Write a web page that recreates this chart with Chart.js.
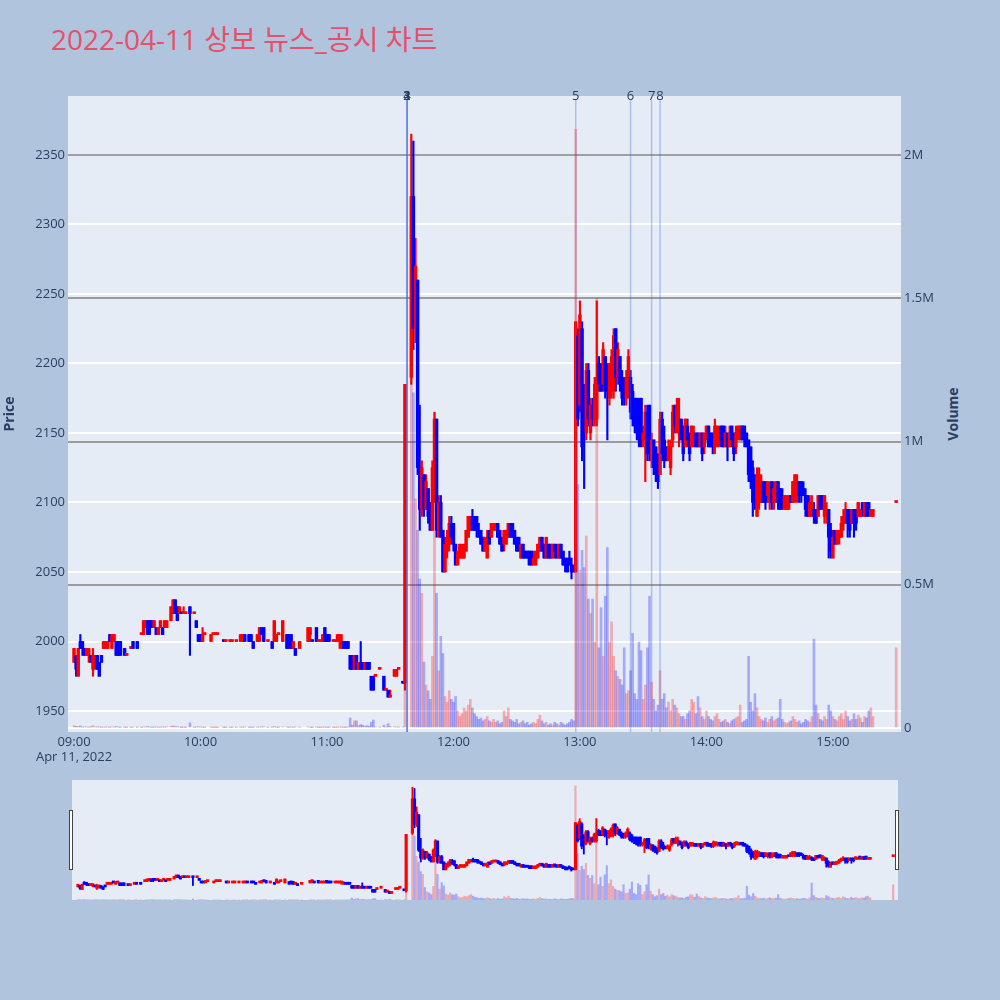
<!DOCTYPE html>
<html lang="ko">
<head>
<meta charset="UTF-8">
<title>2022-04-11 상보 뉴스_공시 차트</title>
<script src="https://cdn.jsdelivr.net/npm/chart.js@4.4.0/dist/chart.umd.min.js"></script>
<style>
    body {
        margin: 0;
        width: 1000px;
        height: 1000px;
        position: relative;
        overflow: hidden;
        background: #b0c4de;
        font-family: "Open Sans", sans-serif;
    }
    #title {
        position: absolute;
        left: 51px;
        top: 20px;
        font-size: 28px;
        line-height: 38px;
        white-space: nowrap;
        color: #e8506a;
        font-family: "Open Sans", "Noto Sans CJK KR", sans-serif;
    }
    #volTitle {
        position: absolute;
        left: 952px;
        top: 414px;
        transform: translate(-50%, -50%) rotate(-90deg);
        font-size: 14px;
        font-weight: bold;
        color: #2a3f5f;
    }
    #main { position: absolute; left: 0; top: 0; }
    #slider { position: absolute; left: 60px; top: 770px; }
</style>
</head>
<body>
<div id="title">2022-04-11 상보 뉴스_공시 차트</div>
<div id="volTitle">Volume</div>
<canvas id="main" width="1000" height="770"></canvas>
<canvas id="slider" width="850" height="140"></canvas>

<script>
// minutes after 09:00 (1-minute candles)
const minutes = [
    0,1,2,3,4,5,6,7,8,9,
    10,11,12,13,14,15,16,17,18,19,
    20,21,22,24,25,27,28,30,32,33,
    34,35,36,37,38,39,40,41,42,43,
    44,46,47,48,49,50,51,52,53,55,
    57,58,59,60,61,62,65,66,67,68,
    71,72,74,75,77,79,80,81,83,84,
    85,87,88,89,90,92,94,95,96,97,
    99,101,102,103,104,105,107,111,112,113,
    115,116,117,118,119,120,121,123,124,125,
    126,127,128,129,130,131,132,133,134,135,
    136,137,138,139,140,141,142,143,145,147,
    148,149,150,152,153,154,156,157,
    160,161,162,163,164,165,166,167,168,169,
    170,171,172,173,174,175,176,177,178,179,
    180,181,182,183,184,185,186,187,188,189,
    190,191,192,193,194,195,196,197,198,199,
    200,201,202,203,204,205,206,207,208,209,
    210,211,212,213,214,215,216,217,218,219,
    220,221,222,223,224,225,226,227,228,229,
    230,231,232,233,234,235,236,237,
    238,239,
    240,241,242,243,244,245,246,247,248,249,
    250,251,252,253,254,255,256,257,258,259,
    260,261,262,263,264,265,266,267,268,269,
    270,271,272,273,274,275,276,277,278,279,
    280,281,282,283,284,285,286,287,288,289,
    290,291,292,293,294,295,296,297,298,299,
    300,301,302,303,304,305,306,307,308,309,
    310,311,312,313,314,315,316,317,318,319,
    320,321,322,323,324,325,326,327,328,329,
    330,331,332,333,334,335,336,337,338,339,
    340,341,342,343,344,345,346,347,348,349,
    350,351,352,353,354,355,356,357,358,359,
    360,361,362,363,364,365,366,367,368,369,
    370,371,372,373,374,375,376,377,378,379,
    390
];

const opens = [
    1985,1990,1975,2000,2000,1995,1990,1990,1990,1980,
    1985,1990,1985,1990,1995,1995,1995,2005,1995,2000,
    2000,2000,2000,1995,1990,1995,2000,2000,2005,2005,
    2010,2015,2015,2015,2010,2010,2005,2010,2010,2010,
    2010,2015,2020,2030,2025,2020,2020,2020,2020,2025,
    2020,2015,2005,2005,2000,2005,2000,2005,2005,2005,
    2000,2000,2000,2000,2000,2000,2000,2005,2005,2005,
    2000,2000,2000,2010,2010,2000,2000,2000,2000,2005,
    2000,2005,2005,2005,1995,1995,1995,2000,2005,2000,
    2010,2000,2000,2000,2010,2005,2005,2000,2000,2000,
    2000,1995,2000,2000,2000,1990,1990,1980,1990,1980,
    1985,1985,1980,1985,1985,1975,1975,1975,1980,1975,
    1965,1965,1960,1975,1975,1980,1970,1970,
    2190,2320,2225,2260,2125,2095,2120,2095,2110,2100,
    2080,2110,2160,2080,2100,2080,2050,2065,2070,2085,
    2085,2070,2055,2060,2060,2060,2065,2075,2080,2090,
    2090,2090,2080,2080,2075,2065,2060,2080,2075,2080,
    2080,2085,2080,2075,2070,2070,2075,2085,2085,2080,
    2075,2075,2060,2070,2065,2065,2065,2065,2055,2055,
    2060,2065,2075,2070,2060,2070,2070,2060,2070,2065,
    2060,2070,2065,2060,2055,2060,2055,2055,
    2050,2220,
    2170,2225,2180,2150,2195,2150,2170,2160,2160,2200,
    2195,2185,2205,2190,2175,2185,2180,2225,2190,2205,
    2190,2185,2175,2180,2190,2180,2175,2175,2170,2175,
    2145,2145,2165,2170,2130,2145,2140,2130,2120,2160,
    2145,2140,2130,2125,2145,2170,2150,2155,2160,2155,
    2140,2155,2150,2140,2145,2150,2150,2140,2150,2140,
    2145,2155,2150,2150,2140,2150,2145,2155,2155,2140,
    2150,2140,2155,2150,2140,2150,2145,2155,2155,2150,
    2145,2140,2125,2115,2090,2100,2100,2115,2115,2105,
    2100,2115,2100,2100,2115,2110,2105,2095,2095,2095,
    2105,2100,2105,2110,2115,2115,2110,2105,2105,2090,
    2090,2095,2095,2090,2105,2105,2090,2090,2095,2080,
    2060,2080,2070,2075,2075,2085,2085,2095,2095,2085,
    2095,2095,2090,2090,2100,2090,2100,2100,2090,2090,
    2100
];

const highs = [
    1995,1990,1995,2005,2000,1995,1995,1995,1990,1995,
    1990,1990,1985,1990,2000,2000,2000,2005,2005,2005,
    2000,2000,2000,1995,1990,1995,2000,2000,2005,2015,
    2015,2015,2015,2015,2015,2010,2010,2015,2010,2015,
    2015,2025,2030,2030,2025,2025,2020,2025,2020,2025,
    2020,2015,2005,2005,2010,2005,2005,2005,2005,2005,
    2000,2000,2000,2000,2000,2005,2005,2005,2005,2005,
    2000,2005,2010,2010,2010,2000,2000,2015,2005,2005,
    2015,2005,2005,2005,2000,1995,2000,2010,2010,2000,
    2010,2000,2000,2005,2010,2005,2005,2000,2000,2005,
    2005,2005,2000,2000,2000,1990,1990,1990,1990,1985,
    2000,1985,1985,1985,1985,1975,1975,1975,1980,1975,
    1965,1965,1965,1980,1980,1980,1970,2185,
    2365,2360,2290,2260,2170,2130,2120,2120,2110,2100,
    2130,2165,2160,2105,2105,2080,2075,2080,2090,2090,
    2085,2070,2065,2070,2070,2070,2080,2090,2090,2095,
    2090,2090,2085,2080,2075,2075,2080,2080,2085,2085,
    2085,2085,2080,2075,2080,2080,2085,2085,2085,2080,
    2075,2075,2070,2070,2065,2065,2065,2065,2065,2065,
    2070,2075,2075,2070,2075,2070,2070,2070,2070,2070,
    2070,2070,2065,2060,2060,2065,2060,2055,
    2230,2225,
    2245,2230,2185,2200,2200,2175,2175,2190,2245,2205,
    2200,2215,2205,2200,2200,2210,2225,2225,2215,2205,
    2195,2190,2195,2210,2195,2185,2175,2175,2175,2175,
    2155,2170,2170,2170,2150,2145,2140,2135,2165,2165,
    2155,2140,2145,2145,2170,2170,2175,2175,2160,2155,
    2160,2160,2150,2155,2155,2150,2150,2150,2150,2150,
    2155,2155,2150,2150,2160,2155,2155,2155,2155,2155,
    2150,2155,2155,2150,2155,2155,2155,2155,2155,2150,
    2145,2140,2130,2120,2125,2125,2120,2115,2115,2115,
    2115,2115,2115,2115,2115,2110,2110,2105,2105,2105,
    2105,2115,2120,2120,2115,2115,2115,2110,2105,2105,
    2105,2100,2095,2105,2105,2105,2105,2100,2095,2085,
    2080,2080,2080,2080,2090,2095,2100,2095,2095,2095,
    2095,2095,2100,2095,2100,2100,2100,2100,2095,2095,
    2100
];

const lows = [
    1985,1975,1975,1995,1990,1990,1990,1985,1985,1975,
    1980,1980,1975,1985,1995,1995,1995,2000,1995,2000,
    1990,1990,1990,1990,1990,1995,1995,1995,2005,2005,
    2010,2005,2005,2010,2010,2005,2005,2010,2005,2010,
    2010,2015,2020,2020,2015,2020,2020,2020,2020,1990,
    2020,2010,2000,2000,2000,2005,2000,2005,2005,2005,
    2000,2000,2000,2000,2000,2000,2000,2000,2000,2000,
    1995,2000,2000,2005,2000,2000,1995,2000,2000,2005,
    2000,1995,1995,1995,1995,1990,1995,2000,2000,2000,
    2000,2000,2000,2000,2000,2000,2000,2000,2000,2000,
    1995,1995,1995,1995,1995,1980,1980,1980,1980,1980,
    1980,1980,1980,1980,1980,1965,1965,1975,1980,1965,
    1965,1960,1960,1975,1975,1980,1970,1965,
    2185,2210,2215,2120,2080,2090,2090,2095,2085,2080,
    2080,2100,2075,2075,2075,2050,2050,2060,2065,2070,
    2065,2055,2055,2060,2060,2060,2065,2075,2080,2080,
    2080,2075,2075,2070,2065,2065,2060,2070,2075,2080,
    2080,2075,2070,2065,2065,2070,2075,2075,2075,2070,
    2065,2065,2060,2060,2060,2060,2055,2055,2055,2055,
    2060,2065,2065,2060,2060,2060,2060,2060,2060,2060,
    2060,2060,2055,2050,2050,2055,2045,2050,
    2050,2155,
    2165,2130,2110,2145,2155,2145,2155,2155,2155,2180,
    2180,2180,2175,2145,2170,2175,2175,2180,2185,2180,
    2170,2170,2170,2175,2160,2155,2150,2145,2140,2140,
    2140,2115,2130,2130,2125,2120,2115,2110,2120,2130,
    2125,2130,2130,2120,2140,2150,2150,2140,2145,2130,
    2140,2140,2130,2140,2140,2140,2140,2140,2130,2135,
    2145,2140,2140,2135,2135,2140,2140,2140,2140,2140,
    2130,2140,2140,2130,2135,2145,2145,2145,2140,2140,
    2115,2110,2090,2095,2090,2095,2100,2100,2095,2100,
    2095,2095,2095,2100,2095,2095,2095,2095,2095,2095,
    2100,2100,2100,2100,2100,2100,2105,2090,2090,2090,
    2090,2085,2085,2090,2095,2095,2085,2085,2060,2060,
    2060,2070,2070,2070,2075,2080,2085,2075,2075,2085,
    2075,2080,2090,2090,2090,2090,2090,2090,2090,2090,
    2100
];

const closes = [
    1995,1980,1995,1995,1995,1990,1995,1995,1985,1990,
    1990,1980,1975,1985,2000,2000,2000,2000,2005,2005,
    1990,1990,1990,1990,1990,1995,1995,1995,2005,2015,
    2015,2005,2010,2010,2015,2005,2010,2015,2005,2015,
    2015,2025,2030,2020,2015,2025,2020,2020,2020,2020,
    2020,2010,2000,2000,2005,2005,2005,2005,2005,2005,
    2000,2000,2000,2000,2000,2005,2005,2000,2000,2000,
    1995,2005,2010,2005,2000,2000,1995,2015,2005,2005,
    2015,1995,2000,1995,2000,1990,2000,2010,2010,2000,
    2000,2000,2000,2005,2000,2000,2000,2000,2000,2005,
    2005,2000,1995,1995,1995,1980,1980,1990,1980,1985,
    1980,1980,1985,1980,1980,1965,1965,1975,1980,1965,
    1965,1960,1960,1980,1980,1980,1970,2185,
    2320,2225,2270,2125,2095,2125,2095,2115,2090,2080,
    2125,2160,2080,2100,2075,2050,2070,2075,2085,2075,
    2070,2055,2065,2070,2065,2070,2080,2090,2090,2080,
    2080,2080,2075,2070,2065,2075,2075,2070,2085,2085,
    2085,2075,2070,2065,2080,2080,2085,2075,2075,2070,
    2065,2065,2070,2060,2060,2060,2055,2055,2060,2065,
    2070,2075,2065,2060,2075,2060,2060,2070,2065,2060,
    2070,2060,2055,2055,2050,2055,2050,2050,
    2230,2160,
    2235,2140,2150,2195,2160,2170,2160,2185,2190,2185,
    2180,2210,2180,2185,2200,2205,2220,2190,2210,2185,
    2175,2175,2190,2205,2165,2160,2155,2150,2145,2150,
    2150,2165,2135,2135,2145,2125,2120,2115,2160,2135,
    2130,2130,2140,2140,2165,2155,2170,2160,2145,2135,
    2160,2145,2135,2155,2150,2140,2140,2150,2135,2150,
    2155,2140,2140,2140,2155,2155,2150,2145,2140,2150,
    2140,2150,2145,2135,2150,2155,2155,2145,2145,2140,
    2120,2115,2100,2100,2120,2120,2115,2100,2100,2115,
    2110,2100,2110,2115,2100,2095,2100,2105,2105,2100,
    2100,2115,2120,2115,2105,2105,2105,2095,2090,2100,
    2100,2090,2085,2105,2095,2100,2105,2095,2075,2065,
    2075,2070,2080,2080,2085,2090,2095,2085,2080,2095,
    2085,2085,2100,2095,2095,2100,2090,2095,2095,2095,
    2100
];

// volume in thousands of shares
const volumes = [
    8,6,5,7,3,4,3,2,5,8,
    4,3,4,2,3,2,3,2,4,2,
    5,3,2,2,1,1,3,2,1,4,
    3,5,3,2,2,3,2,2,3,2,
    4,6,8,5,4,3,1,2,1,18,
    1,3,4,3,2,1,2,1,1,1,
    1,1,1,1,1,2,2,3,2,2,
    2,2,3,3,4,1,2,5,2,1,
    4,3,2,3,2,3,2,3,2,1,
    3,1,1,2,3,2,2,1,1,2,
    3,2,2,2,3,35,10,25,25,8,
    12,10,6,8,6,20,28,3,2,10,
    3,15,6,4,3,2,3,650,
    1860,1170,800,690,520,470,230,150,130,100,
    250,1100,470,200,320,260,110,90,130,100,
    90,110,60,40,50,70,60,80,100,70,
    50,40,30,35,25,30,40,25,20,30,
    20,25,15,20,60,40,70,30,25,20,
    30,15,20,25,15,20,10,15,20,15,
    30,45,25,15,20,10,15,10,20,15,
    10,20,15,10,15,20,30,25,
    2090,850,
    550,620,560,670,450,400,450,300,1500,280,
    420,250,460,630,300,370,250,200,180,170,
    150,280,120,130,200,330,120,100,300,270,
    100,150,280,460,160,100,60,80,200,100,
    120,70,90,60,100,80,70,50,40,40,
    30,50,60,100,90,50,110,70,40,30,
    60,40,30,25,40,50,30,20,25,30,
    20,15,25,30,35,40,80,20,25,30,
    250,90,60,120,70,40,30,25,35,20,
    30,40,25,30,35,100,30,20,15,20,
    25,40,30,20,25,15,20,30,25,20,
    40,310,80,50,30,25,40,30,80,60,
    40,30,25,40,50,30,60,40,25,30,
    50,30,45,35,20,40,35,60,70,40,
    280
];

const timeTicks = ['09:00', '10:00', '11:00', '12:00', '13:00', '14:00', '15:00'];
const dateLabel = 'Apr 11, 2022';
const priceTicks = [1950, 2000, 2050, 2100, 2150, 2200, 2250, 2300, 2350];
const volumeTicks = [0, 500000, 1000000, 1500000, 2000000];
const newsLabels = ['1', '2', '3', '4', '5', '6', '7', '8'];
const newsTimes = ['11:38', '11:38', '11:38', '11:38', '12:58', '13:24', '13:34', '13:38'];

const toMin = t => {
    const [h, m] = t.split(':').map(Number);
    return (h - 9) * 60 + m;
};

Chart.defaults.font.family = '"Open Sans", sans-serif';
Chart.defaults.color = '#2a3f5f';

// red = up, blue = down; flat candles follow the previous close
const isUp = minutes.map((m, i) =>
    closes[i] > opens[i] || (closes[i] === opens[i] && (i === 0 || closes[i] >= closes[i - 1])));
const candleColors = isUp.map(u => u ? '#ff0000' : '#0000ff');
const volColors = isUp.map(u => u ? 'rgba(255,0,0,0.28)' : 'rgba(0,0,255,0.28)');

function buildDatasets(bodyW, wickW, volW) {
    return [
        {
            yAxisID: 'yv',
            data: minutes.map((m, i) => ({ x: m, y: volumes[i] * 1000 })),
            backgroundColor: volColors,
            barThickness: volW,
            grouped: false,
            order: 3
        },
        {
            yAxisID: 'y',
            data: minutes.map((m, i) => ({ x: m, y: [lows[i], highs[i]] })),
            backgroundColor: candleColors,
            barThickness: wickW,
            minBarLength: 1,
            grouped: false,
            order: 2
        },
        {
            yAxisID: 'y',
            data: minutes.map((m, i) => ({ x: m, y: [Math.min(opens[i], closes[i]), Math.max(opens[i], closes[i])] })),
            backgroundColor: candleColors,
            barThickness: bodyW,
            minBarLength: 2,
            grouped: false,
            order: 1
        }
    ];
}

const plotBg = {
    id: 'plotBg',
    beforeDraw(chart) {
        const { ctx, chartArea: a } = chart;
        ctx.save();
        ctx.fillStyle = '#e5ecf6';
        ctx.fillRect(a.left, a.top, a.right - a.left, a.bottom - a.top);
        ctx.restore();
    }
};

const newsLines = {
    id: 'newsLines',
    afterDatasetsDraw(chart) {
        const { ctx, chartArea: a, scales } = chart;
        ctx.save();
        newsTimes.forEach((t, i) => {
            const px = scales.x.getPixelForValue(toMin(t));
            ctx.strokeStyle = 'rgba(65,105,225,0.35)';
            ctx.lineWidth = 1.5;
            ctx.beginPath();
            ctx.moveTo(px, a.top + 4);
            ctx.lineTo(px, a.bottom);
            ctx.stroke();
            ctx.fillStyle = '#2a3f5f';
            ctx.font = '13px "Open Sans"';
            ctx.textAlign = 'center';
            ctx.textBaseline = 'middle';
            ctx.fillText(newsLabels[i], px, a.top);
        });
        ctx.restore();
    }
};

const xMin = -2.85, xMax = 392.3;

new Chart(document.getElementById('main'), {
    type: 'bar',
    data: { datasets: buildDatasets(2.8, 1.5, 2) },
    options: {
        responsive: false,
        animation: false,
        devicePixelRatio: 1,
        layout: { padding: { top: 96, left: 0, right: 0, bottom: 0 } },
        plugins: { legend: { display: false }, tooltip: { enabled: false } },
        scales: {
            x: {
                type: 'linear',
                min: xMin,
                max: xMax,
                offset: false,
                grid: { display: false, drawTicks: false },
                border: { display: false },
                afterBuildTicks: s => { s.ticks = timeTicks.map(t => ({ value: toMin(t) })); },
                afterFit: s => { s.height = 38; },
                ticks: {
                    autoSkip: false,
                    maxRotation: 0,
                    padding: 2,
                    font: { size: 13 },
                    callback: (v, i) => i === 0 ? [timeTicks[0], dateLabel] : timeTicks[i]
                }
            },
            y: {
                position: 'left',
                min: 1934.9,
                max: 2392.4,
                grid: { color: '#ffffff', lineWidth: 2, drawTicks: false },
                border: { display: false },
                afterBuildTicks: s => { s.ticks = priceTicks.map(v => ({ value: v })); },
                afterFit: s => { s.width = 68; },
                ticks: {
                    padding: 3,
                    font: { size: 13 },
                    callback: v => String(v)
                },
                title: {
                    display: true,
                    text: 'Price',
                    color: '#2a3f5f',
                    font: { size: 14, weight: 'bold' },
                    padding: { top: 2, bottom: 0 }
                }
            },
            yv: {
                position: 'right',
                min: -14000,
                max: 2206000,
                grid: {
                    color: c => c.tick && c.tick.value === 0 ? '#ffffff' : 'rgba(128,128,128,0.75)',
                    lineWidth: 2,
                    drawTicks: false
                },
                border: { display: false },
                afterBuildTicks: s => { s.ticks = volumeTicks.map(v => ({ value: v })); },
                afterFit: s => { s.width = 99; },
                ticks: {
                    padding: 3,
                    font: { size: 13 },
                    callback: v => v === 0 ? '0' : (v / 1e6) + 'M'
                }
            }
        }
    },
    plugins: [plotBg, newsLines]
});

const sliderHandles = {
    id: 'sliderHandles',
    afterDraw(chart) {
        const { ctx, chartArea: a } = chart;
        ctx.save();
        ctx.fillStyle = '#ffffff';
        ctx.strokeStyle = '#444444';
        ctx.lineWidth = 1;
        [a.left - 3, a.right - 3].forEach(hx => {
            ctx.fillRect(hx + 0.5, 40.5, 3, 59);
            ctx.strokeRect(hx + 0.5, 40.5, 3, 59);
        });
        ctx.restore();
    }
};

new Chart(document.getElementById('slider'), {
    type: 'bar',
    data: { datasets: buildDatasets(2.5, 1.2, 1.5) },
    options: {
        responsive: false,
        animation: false,
        devicePixelRatio: 1,
        layout: { padding: { top: 10, left: 12, right: 12, bottom: 10 } },
        plugins: { legend: { display: false }, tooltip: { enabled: false } },
        scales: {
            x: { type: 'linear', min: xMin, max: xMax, offset: false, display: false },
            y: { min: 1934.9, max: 2392.4, display: false },
            yv: { min: 0, max: 2200000, display: false }
        }
    },
    plugins: [plotBg, sliderHandles]
});
</script>
</body>
</html>
